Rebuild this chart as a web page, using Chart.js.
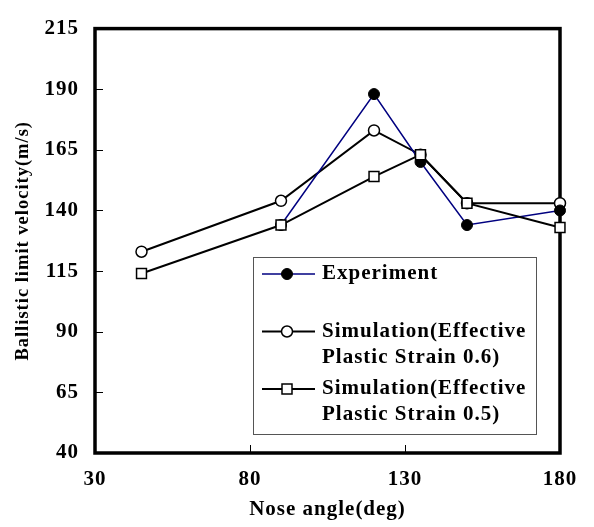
<!DOCTYPE html>
<html>
<head>
<meta charset="utf-8">
<script src="https://cdn.jsdelivr.net/npm/chart.js@4.4.0/dist/chart.umd.min.js"></script>
<style>
  html, body { margin: 0; padding: 0; background: #fff; }
</style>
</head>
<body>
<canvas id="chart" width="594" height="527"></canvas>
<script>
const angles = [45, 90, 120, 135, 150, 180];
const experiment = [null, 134, 188, 160, 134, 140];
const sim06 = [123, 144, 173, 163, 143, 143];
const sim05 = [114, 134, 154, 163, 143, 133];
const xTicks = [30, 80, 130, 180];
const yTicks = [40, 65, 90, 115, 140, 165, 190, 215];

const FONT = "'Liberation Serif', 'Times New Roman', serif";
const SPACING = "1px";

const toPoints = ys => angles.map((x, i) => ({ x: x, y: ys[i] }));

// frame around the plot + small tick marks pointing inward
const framePlugin = {
  id: "frame",
  beforeUpdate(chart) { chart.ctx.letterSpacing = SPACING; },
  beforeDraw(chart) { chart.ctx.letterSpacing = SPACING; },
  beforeDatasetsDraw(chart) {
    const { ctx, chartArea: a } = chart;
    const xs = chart.scales.x, ys = chart.scales.y;
    ctx.save();
    ctx.strokeStyle = "#000";
    ctx.lineWidth = 1;
    ctx.beginPath();
    xTicks.forEach(v => {
      const px = Math.round(xs.getPixelForValue(v)) + 0.5;
      ctx.moveTo(px, a.bottom);
      ctx.lineTo(px, a.bottom - 8);
    });
    yTicks.forEach(v => {
      const py = Math.round(ys.getPixelForValue(v)) + 0.5;
      ctx.moveTo(a.left, py);
      ctx.lineTo(a.left + 8, py);
    });
    ctx.stroke();
    ctx.lineWidth = 3.5;
    ctx.strokeRect(a.left, a.top, a.right - a.left, a.bottom - a.top);
    ctx.restore();
  }
};

// boxed legend inside the plot, with two-line labels
const legendPlugin = {
  id: "boxLegend",
  afterDatasetsDraw(chart) {
    const ctx = chart.ctx;
    const box = { x: 253, y: 257, w: 283, h: 177 };
    ctx.save();
    ctx.letterSpacing = SPACING;
    ctx.fillStyle = "#fff";
    ctx.fillRect(box.x, box.y, box.w, box.h);
    ctx.strokeStyle = "#555";
    ctx.lineWidth = 1;
    ctx.strokeRect(box.x + 0.5, box.y + 0.5, box.w, box.h);

    chart.data.datasets.forEach((ds, i) => {
      const cy = 274 + i * 57.5;
      ctx.strokeStyle = ds.borderColor;
      ctx.lineWidth = ds.borderWidth;
      ctx.beginPath();
      ctx.moveTo(262, cy);
      ctx.lineTo(315, cy);
      ctx.stroke();

      ctx.strokeStyle = ds.pointBorderColor;
      ctx.fillStyle = ds.pointBackgroundColor;
      ctx.lineWidth = ds.pointBorderWidth;
      ctx.beginPath();
      if (ds.pointStyle === "rect") {
        ctx.rect(287 - 5, cy - 5, 10, 10);
      } else {
        ctx.arc(287, cy, ds.pointRadius, 0, Math.PI * 2);
      }
      ctx.fill();
      ctx.stroke();

      ctx.fillStyle = "#000";
      ctx.font = "bold 21px " + FONT;
      ctx.textAlign = "left";
      ctx.textBaseline = "middle";
      const lines = Array.isArray(ds.label) ? ds.label : [ds.label];
      lines.forEach((t, j) => ctx.fillText(t, 322, cy + j * 26));
    });
    ctx.restore();
  }
};

new Chart(document.getElementById("chart"), {
  type: "line",
  data: {
    datasets: [
      {
        label: "Experiment",
        data: toPoints(experiment),
        borderColor: "#000080",
        borderWidth: 1.5,
        pointStyle: "circle",
        pointRadius: 5.5,
        pointBackgroundColor: "#000",
        pointBorderColor: "#000",
        pointBorderWidth: 1,
        order: 1
      },
      {
        label: ["Simulation(Effective", "Plastic Strain 0.6)"],
        data: toPoints(sim06),
        borderColor: "#000",
        borderWidth: 2,
        pointStyle: "circle",
        pointRadius: 5.5,
        pointBackgroundColor: "#fff",
        pointBorderColor: "#000",
        pointBorderWidth: 1.5,
        order: 2
      },
      {
        label: ["Simulation(Effective", "Plastic Strain 0.5)"],
        data: toPoints(sim05),
        borderColor: "#000",
        borderWidth: 2,
        pointStyle: "rect",
        pointRadius: 7,
        pointBackgroundColor: "#fff",
        pointBorderColor: "#000",
        pointBorderWidth: 1.5,
        order: 0
      }
    ]
  },
  options: {
    responsive: false,
    animation: false,
    clip: false,
    layout: { padding: { left: 0, right: 34, top: 15, bottom: 0 } },
    plugins: {
      legend: { display: false },
      tooltip: { enabled: false }
    },
    elements: { line: { tension: 0 } },
    scales: {
      x: {
        type: "linear",
        min: 30,
        max: 180,
        afterBuildTicks: s => { s.ticks = xTicks.map(v => ({ value: v })); },
        afterFit: s => { s.height = 74; },
        grid: { display: false, drawTicks: false },
        border: { display: false },
        ticks: {
          color: "#000",
          padding: 14,
          maxRotation: 0,
          font: { family: FONT, size: 21, weight: "bold" }
        },
        title: {
          display: true,
          text: "Nose angle(deg)",
          color: "#000",
          padding: { top: 0, bottom: 5 },
          font: { family: FONT, size: 21, weight: "bold" }
        }
      },
      y: {
        min: 40,
        max: 215,
        afterBuildTicks: s => { s.ticks = yTicks.map(v => ({ value: v })); },
        afterFit: s => { s.width = 95; },
        grid: { display: false, drawTicks: false },
        border: { display: false },
        ticks: {
          color: "#000",
          padding: 16,
          font: { family: FONT, size: 21, weight: "bold" }
        },
        title: {
          display: true,
          text: "Ballistic limit velocity(m/s)",
          color: "#000",
          padding: { top: 12, bottom: 0 },
          font: { family: FONT, size: 18.5, weight: "bold" }
        }
      }
    }
  },
  plugins: [framePlugin, legendPlugin]
});
</script>
</body>
</html>
